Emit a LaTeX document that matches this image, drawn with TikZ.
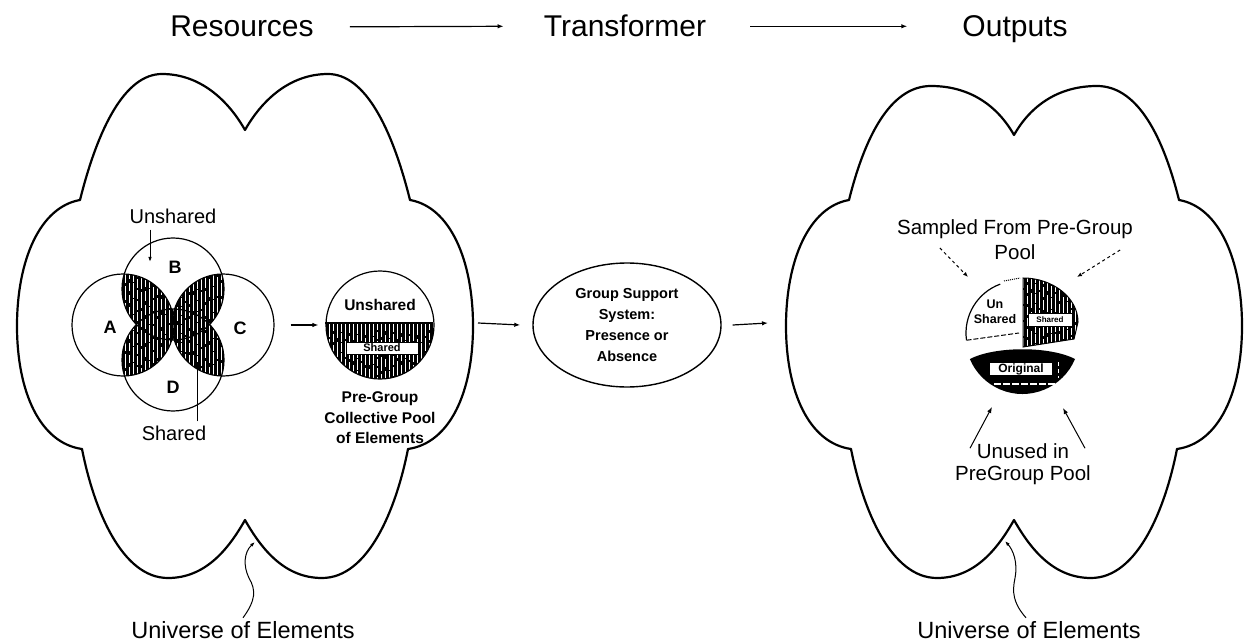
\documentclass[tikz,border=0pt]{standalone}
\usepackage{fontspec}
\setmainfont{Liberation Sans}
\usetikzlibrary{arrows.meta,shapes.geometric}

\newcommand{\hatchbox}[4]{%
  \fill[black] (#1,#3) rectangle (#2,#4);%
  \pgfmathtruncatemacro{\hn}{(#2-#1)/4}%
  \foreach \hi in {0,...,\hn}{%
    \pgfmathsetmacro{\hw}{mod(\hi,3)==1 ? 1.3 : 0.8}%
    \pgfmathsetmacro{\hxx}{#1+4*\hi+1.5}%
    \pgfmathsetmacro{\don}{7+mod(\hi*7,13)}%
    \pgfmathsetmacro{\doff}{1+mod(\hi*5,4)}%
    \draw[white, line width=\hw pt, dash pattern=on \don pt off \doff pt] (\hxx,#3) -- (\hxx,#4);%
  }%
}

% #1 = y of the top lobe peaks, #2 = y of the top notch
\newcommand{\cloudshape}[2]{(80,200) .. controls (98,128) and (125,#1) .. (162,#1) .. controls (200,#1) and (228,#2-30) .. (245,#2) .. controls (262,#2-30) and (290,#1) .. (328,#1) .. controls (365,#1) and (392,128) .. (410,200) .. controls (450,207) and (473,260) .. (473,326) .. controls (473,392) and (450,443) .. (408,449) .. controls (396,510) and (368,578) .. (322,578) .. controls (285,578) and (262,550) .. (245,520) .. controls (228,550) and (205,578) .. (168,578) .. controls (122,578) and (94,510) .. (82,449) .. controls (40,443) and (17,392) .. (17,326) .. controls (17,260) and (40,207) .. (80,200) -- cycle}

\begin{document}
\begin{tikzpicture}[x=1pt,y=-1pt,
  title/.style={font=\fontsize{30}{34}\selectfont, inner sep=0pt},
  lab/.style={font=\fontsize{20}{24}\selectfont, inner sep=0pt, align=center},
  letter/.style={font=\bfseries\fontsize{18}{20}\selectfont, inner sep=0pt},
  blab/.style={font=\bfseries\fontsize{15.5}{20.5}\selectfont, inner sep=0pt, align=center},
  uni/.style={font=\fontsize{23.5}{26}\selectfont, inner sep=0pt},
  arr/.style={line width=1.2pt, -{Latex[length=6pt,width=4.5pt]}},
  darr/.style={line width=1pt, dash pattern=on 3pt off 3pt, -{Latex[length=5pt,width=4pt]}},
  cloudline/.style={line width=2.2pt, line join=round},
  vennline/.style={line width=1.2pt},
  vcirc/.style={circle, draw, vennline, minimum size=102pt, inner sep=0pt},
  wbox/.style={fill=white, draw=black, line width=0.6pt, inner sep=0pt},
]
\fill[white] (0,0) rectangle (1244,644);
\useasboundingbox (0,0) rectangle (1244,644);

% ---------- titles ----------
\node[title, anchor=base] (res) at (242,37) {Resources};
\node[title, anchor=base] (trans) at (625,37) {Transformer};
\node[title, anchor=base] (outs) at (1015,37) {Outputs};
\coordinate (t2end) at ([xshift=-55pt]outs.west);
\draw[arr] ([xshift=36pt]res.east) -- ([xshift=-40pt]trans.west);
\draw[arr] ([xshift=44pt]trans.east) -- (t2end |- trans.east);

% ---------- clouds ----------
\draw[cloudline] \cloudshape{74}{130};
\begin{scope}[xshift=769pt]
\draw[cloudline] \cloudshape{86}{135};
\end{scope}
\coordinate (cloudLe) at (473,323);
\coordinate (cloudRw) at (786,323);
\coordinate (cl1) at (255,542);
\coordinate (cr1) at (1005,541);

% ---------- universe labels ----------
\node[uni, anchor=base] (u1) at (243,638) {Universe of Elements};
\node[uni, anchor=base] (u2) at (1029,638) {Universe of Elements};
\draw[line width=1pt, -{Latex[length=5pt,width=3.5pt]}] ([yshift=3pt]u1.north) .. controls (256,600) and (256,590) .. (249,578) .. controls (243,566) and (244,552) .. (cl1);
\draw[line width=1pt, -{Latex[length=5pt,width=3.5pt]}] ([xshift=-3pt,yshift=3pt]u2.north) .. controls (1013,603) and (1012,592) .. (1015,578) .. controls (1018,562) and (1013,550) .. (cr1);

% ---------- Venn ----------
\coordinate (vA) at (123,325);
\coordinate (vB) at (173,289);
\coordinate (vC) at (223,325);
\coordinate (vD) at (173,360);
\foreach \p/\q in {vA/vB, vB/vC, vC/vD, vD/vA, vB/vD, vA/vC}{
  \begin{scope}
    \clip (\p) circle[radius=51];
    \clip (\q) circle[radius=51];
    \hatchbox{68}{280}{235}{415}
  \end{scope}}
\node[vcirc] (cA) at (vA) {};
\node[vcirc] (cB) at (vB) {};
\node[vcirc] (cC) at (vC) {};
\node[vcirc] (cD) at (vD) {};
\node[letter] (lA) at (110,327) {A};
\node[letter] (lB) at (175,267) {B};
\node[letter] (lC) at (240,328) {C};
\node[letter] (lD) at (173,387) {D};
\node[lab] (unsh) at (173,216) {Unshared};
\coordinate (unshTip) at (150,262);
\draw[line width=1pt, -{Latex[length=5pt,width=3.5pt]}] (unsh.south -| unshTip) ++(0,6) -- (unshTip);
\node[lab] (sh) at (174,433) {Shared};
\coordinate (shTip) at (197,362);
\draw[line width=1pt] (sh.north -| shTip) ++(0,-4) -- (shTip);

% ---------- pre-group pool ----------
\coordinate (pool) at (380,325);
\begin{scope}
  \clip (pool) circle[radius=54];
  \hatchbox{324}{436}{323}{381}
\end{scope}
\node[circle, draw, vennline, minimum size=108pt, inner sep=0pt] (poolc) at (pool) {};
\draw[line width=1.6pt] (poolc.west) ++(0,-2) -- ++(108,0);
\node[blab] (poolU) at (380,305) {Unshared};
\node[wbox, minimum width=72pt, minimum height=12pt, font=\bfseries\fontsize{11}{12}\selectfont] (poolS) at (382,348) {Shared};
\node[blab] (poolL) at (380,418) {Pre-Group\\Collective Pool\\of Elements};
\draw[arr] ([xshift=16pt]cC.east) -- ([xshift=-7pt]poolc.west);

% ---------- transformer ----------
\node[ellipse, draw, line width=1.4pt, minimum width=188pt, minimum height=124pt, inner sep=0pt, align=center, font=\bfseries\fontsize{14.5}{20.7}\selectfont] (gss) at (627,325) {Group Support\\System:\\Presence or\\Absence};
\draw[arr] ([xshift=5pt]cloudLe) -- ([xshift=-12pt]gss.west);
\draw[arr] ([xshift=11pt]gss.east) -- ([xshift=-18pt]cloudRw);

% ---------- output pie ----------
\begin{scope}
  \clip (1023,347) -- (1023,278) .. controls (1053,278) and (1078,298) .. (1078,322) -- (1074,339) -- cycle;
  \hatchbox{1018}{1082}{274}{352}
\end{scope}
\draw[line width=1pt] (1023,347) -- (1023,278) .. controls (1053,278) and (1078,298) .. (1078,322) -- (1074,339) -- cycle;
\node[wbox, minimum width=44pt, minimum height=13pt, font=\bfseries\fontsize{8}{9}\selectfont] (pieS) at (1050,320) {Shared};
\draw[line width=1.2pt] (1018,333) ++(172:52) arc[start angle=172, end angle=250, radius=52];
\draw[line width=1pt, dash pattern=on 5pt off 2pt] (1018,333) ++(172:52) -- (1019,333);
\draw[line width=1pt, densely dotted] (1004,281) -- (1020,278);
\node[font=\bfseries\fontsize{12.5}{15}\selectfont, align=center, inner sep=0pt] (pieU) at (995,312) {Un\\Shared};
\fill[black] (970,359) .. controls (995,346) and (1050,346) .. (1075,359) arc[start angle=22.7, end angle=157.3, radius=57] -- cycle;
\node[wbox, minimum width=63pt, minimum height=13pt, font=\bfseries\fontsize{12}{13}\selectfont] (pieO) at (1021,369) {Original};
\draw[white, line width=1.2pt, dash pattern=on 7pt off 2pt] (994,384) -- (1056,384);
\draw[white, line width=0.8pt, dash pattern=on 4pt off 3pt] (1058,362) -- (1058,378);

\node[lab, font=\fontsize{20.5}{25}\selectfont] (samp) at (1015,240) {Sampled From Pre-Group\\Pool};
\coordinate (pieTL) at (968,277);
\coordinate (pieTR) at (1077,277);
\draw[darr] ([shift={(43,8)}]samp.west) -- (pieTL);
\draw[darr] ([shift={(-13,10)}]samp.east) -- (pieTR);

\node[lab, font=\fontsize{20.5}{22}\selectfont] (unused) at (1023,464) {Unused in\\PreGroup Pool};
\coordinate (pieBL) at (992,407);
\coordinate (pieBR) at (1063,408);
\draw[arr, line width=1pt] ([shift={(-53,5)}]unused.north) -- (pieBL);
\draw[arr, line width=1pt] ([shift={(62,5)}]unused.north) -- (pieBR);
\end{tikzpicture}
\end{document}
